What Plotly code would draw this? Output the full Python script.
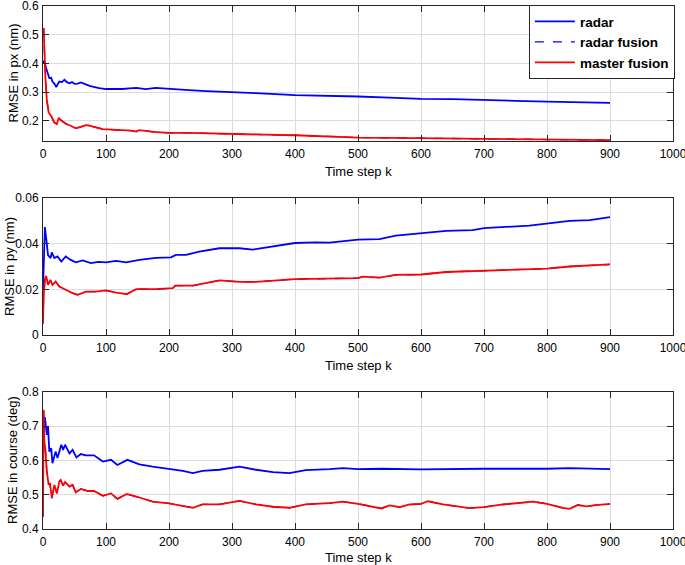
import plotly.graph_objects as go

# ---------------- data ----------------
# Panel 1: RMSE in px (nm)
px_radar_k = [0, 2, 5, 8, 10, 13, 15, 18, 21, 24, 26, 30, 34, 38, 42, 46, 50, 55, 60, 67, 74, 82, 89,
              100, 113, 126, 137, 148, 163, 179, 190, 200, 232, 259, 300, 338, 400, 455, 500, 550,
              600, 650, 700, 750, 800, 850, 900]
px_radar = [0.40, 0.41, 0.383, 0.36, 0.349, 0.35, 0.337, 0.33, 0.318, 0.33, 0.337, 0.335, 0.343, 0.335,
            0.331, 0.335, 0.329, 0.33, 0.334, 0.328, 0.322, 0.318, 0.314, 0.311, 0.31, 0.311, 0.313,
            0.315, 0.311, 0.315, 0.313, 0.311, 0.307, 0.304, 0.301, 0.297, 0.290, 0.288, 0.285, 0.281,
            0.277, 0.276, 0.274, 0.270, 0.267, 0.265, 0.2625]
px_master_k = [1, 2, 4, 6, 9, 13, 18, 22, 25, 28, 32, 37, 44, 52, 60, 68, 72, 79, 87, 95, 110, 126, 140,
               148, 153, 175, 200, 232, 260, 300, 350, 400, 455, 500, 550, 600, 650, 700, 750, 800,
               850, 900]
px_master = [0.523, 0.446, 0.343, 0.274, 0.229, 0.217, 0.194, 0.189, 0.211, 0.203, 0.196, 0.189, 0.183,
             0.174, 0.179, 0.185, 0.184, 0.181, 0.176, 0.171, 0.170, 0.169, 0.166, 0.163, 0.168, 0.162,
             0.158, 0.158, 0.156, 0.154, 0.152, 0.150, 0.145, 0.142, 0.141, 0.140, 0.139, 0.1375,
             0.136, 0.135, 0.134, 0.133]
px_fusion_k = px_master_k
px_fusion = px_master

# Panel 2: RMSE in py (nm)
py_radar_k = [0, 1, 3, 6, 8, 12, 14, 18, 23, 29, 36, 44, 52, 63, 76, 88, 100, 116, 132, 153, 179, 203,
              211, 227, 248, 280, 312, 333, 359, 400, 433, 455, 500, 534, 560, 600, 640, 682, 700,
              772, 800, 836, 868, 900]
py_radar = [0.02, 0.03, 0.0473, 0.040, 0.035, 0.0337, 0.0362, 0.0337, 0.0344, 0.0322, 0.0344, 0.0329,
            0.0318, 0.0327, 0.0315, 0.032, 0.0318, 0.0325, 0.0318, 0.0329, 0.0338, 0.034, 0.0351,
            0.0351, 0.0365, 0.038, 0.038, 0.0374, 0.0386, 0.0403, 0.0406, 0.0405, 0.0418, 0.042,
            0.0435, 0.0444, 0.0456, 0.0459, 0.0468, 0.0479, 0.0488, 0.050, 0.0503, 0.0516]
py_master_k = [0, 1, 3, 5, 8, 12, 15, 20, 26, 36, 47, 55, 68, 84, 100, 116, 133, 148, 179, 206, 210,
               238, 280, 312, 338, 400, 455, 500, 508, 534, 560, 600, 640, 700, 772, 800, 836, 900]
py_master = [0.005, 0.0168, 0.024, 0.0259, 0.022, 0.0241, 0.022, 0.0234, 0.0212, 0.0198, 0.0183,
             0.0176, 0.019, 0.019, 0.0195, 0.0186, 0.0179, 0.0201, 0.0201, 0.0205, 0.0216, 0.0216,
             0.0239, 0.0233, 0.0233, 0.0245, 0.0247, 0.0249, 0.0256, 0.0251, 0.0263, 0.0265, 0.0276,
             0.0282, 0.0288, 0.0291, 0.030, 0.0309]
py_fusion_k = py_master_k
py_fusion = py_master

# Panel 3: RMSE in course (deg)
co_radar_k = [0, 1, 3, 6, 8, 10, 13, 15, 20, 23, 29, 32, 35, 42, 47, 53, 60, 68, 81, 95, 108, 118, 134,
              153, 174, 200, 222, 238, 253, 280, 312, 338, 365, 391, 417, 455, 476, 500, 537, 600,
              670, 700, 800, 836, 900]
co_radar = [0.62, 0.68, 0.727, 0.675, 0.70, 0.626, 0.636, 0.592, 0.626, 0.607, 0.646, 0.631, 0.646,
            0.621, 0.631, 0.609, 0.619, 0.615, 0.615, 0.597, 0.602, 0.587, 0.602, 0.589, 0.582, 0.576,
            0.570, 0.563, 0.570, 0.573, 0.582, 0.573, 0.566, 0.563, 0.572, 0.575, 0.578, 0.575, 0.576,
            0.574, 0.576, 0.576, 0.576, 0.578, 0.575]
co_master_k = [0, 1, 2, 4, 6, 9, 11, 14, 18, 22, 26, 28, 32, 35, 42, 47, 52, 60, 71, 81, 95, 108, 118,
               133, 153, 174, 200, 222, 238, 253, 280, 312, 338, 365, 391, 417, 455, 476, 500, 537,
               550, 566, 582, 600, 611, 635, 677, 700, 730, 778, 800, 825, 836, 849, 862, 878, 900]
co_master = [0.436, 0.748, 0.66, 0.626, 0.568, 0.529, 0.534, 0.49, 0.529, 0.504, 0.539, 0.543, 0.527,
             0.537, 0.524, 0.529, 0.507, 0.517, 0.511, 0.511, 0.497, 0.504, 0.488, 0.502, 0.492, 0.48,
             0.475, 0.468, 0.462, 0.472, 0.472, 0.482, 0.472, 0.465, 0.462, 0.472, 0.4755, 0.480,
             0.4735, 0.460, 0.469, 0.464, 0.4716, 0.4735, 0.481, 0.4716, 0.461, 0.464, 0.4716, 0.480,
             0.4735, 0.462, 0.459, 0.470, 0.466, 0.470, 0.4735]
co_fusion_k = co_master_k
co_fusion = co_master

series_names = ["radar", "radar fusion", "master fusion"]
y_titles = ["RMSE in px (nm)", "RMSE in py (nm)", "RMSE in course (deg)"]
x_title = "Time step k"
x_ticks = [0, 100, 200, 300, 400, 500, 600, 700, 800, 900, 1000]
y_ticks = [[0.2, 0.3, 0.4, 0.5, 0.6], [0, 0.02, 0.04, 0.06], [0.4, 0.5, 0.6, 0.7, 0.8]]
y_ranges = [[0.13, 0.6001], [0, 0.06001], [0.4, 0.8001]]

panels = [
    (px_radar_k, px_radar, px_fusion_k, px_fusion, px_master_k, px_master),
    (py_radar_k, py_radar, py_fusion_k, py_fusion, py_master_k, py_master),
    (co_radar_k, co_radar, co_fusion_k, co_fusion, co_master_k, co_master),
]

# ---------------- figure ----------------
W, H = 685, 565
ML, MR, MT, MB = 43, 12, 6, 36
PH = H - MT - MB

def py2paper(ypix):
    return (H - MB - ypix) / PH

domains = [[py2paper(141), 1.0], [py2paper(335), py2paper(198)], [0.0, py2paper(392)]]
xtitle_y = [py2paper(171), py2paper(365), py2paper(557)]
ytitle_xpix = [13, 9.5, 12.5]

FONT = "Liberation Sans, Arial, Helvetica, sans-serif"
AX = "#262626"
GRID = "#dcdcdc"

fig = go.Figure()
styles = [dict(color="#0000ff", dash="solid", width=1.8),
          dict(color="#0000ff", dash="dash", width=1.3),
          dict(color="#ff0000", dash="solid", width=1.8)]

for i, p in enumerate(panels):
    sfx = "" if i == 0 else str(i + 1)
    for j in range(3):
        fig.add_trace(go.Scatter(
            x=p[2 * j], y=p[2 * j + 1], mode="lines", name=series_names[j],
            line=dict(color=styles[j]["color"], dash=styles[j]["dash"], width=styles[j]["width"]),
            xaxis="x" + sfx, yaxis="y" + sfx, showlegend=(i == 0)))

layout = dict(
    width=W, height=H, margin=dict(l=ML, r=MR, t=MT, b=MB, autoexpand=False),
    paper_bgcolor="white", plot_bgcolor="white",
    font=dict(family=FONT, size=12, color="black"),
    showlegend=True,
    legend=dict(x=1.003, xanchor="right", y=py2paper(5), yanchor="top",
                bgcolor="white", bordercolor=AX, borderwidth=1,
                font=dict(family=FONT, size=13.5, color="black", weight="bold"),
                tracegroupgap=0, itemwidth=40),
)

annotations = []
for i in range(3):
    sfx = "" if i == 0 else str(i + 1)
    layout["xaxis" + sfx] = dict(
        domain=[0, 1], range=[0, 1000], anchor="y" + sfx, tickvals=x_ticks,
        showgrid=True, gridcolor=GRID, gridwidth=1, zeroline=False,
        showline=True, linecolor=AX, linewidth=1, mirror="ticks",
        ticks="inside", ticklen=6, tickcolor=AX, tickwidth=1,
        ticklabeloverflow="allow", ticklabelstandoff=2,
        tickfont=dict(family=FONT, size=12, color="black"), automargin=False)
    layout["yaxis" + sfx] = dict(
        domain=domains[i], range=y_ranges[i], anchor="x" + sfx, tickvals=y_ticks[i],
        showgrid=True, gridcolor=GRID, gridwidth=1, zeroline=False,
        showline=True, linecolor=AX, linewidth=1, mirror="ticks",
        ticks="inside", ticklen=6, tickcolor=AX, tickwidth=1,
        ticklabeloverflow="allow", ticklabelstandoff=1,
        tickfont=dict(family=FONT, size=12, color="black"), automargin=False)
    annotations.append(dict(
        text=y_titles[i], xref="paper", yref="paper", x=(ytitle_xpix[i] - ML) / (W - ML - MR),
        y=(domains[i][0] + domains[i][1]) / 2, textangle=-90, showarrow=False,
        xanchor="center", yanchor="middle", font=dict(family=FONT, size=13, color="black")))
    annotations.append(dict(
        text=x_title, xref="paper", yref="paper", x=0.5, y=xtitle_y[i], showarrow=False,
        xanchor="center", yanchor="middle", font=dict(family=FONT, size=13, color="black")))

layout["annotations"] = annotations
fig.update_layout(**layout)
fig.write_html("out.html", config={"displayModeBar": False},
               post_script="document.body.style.margin='0';document.body.style.overflow='hidden';")
